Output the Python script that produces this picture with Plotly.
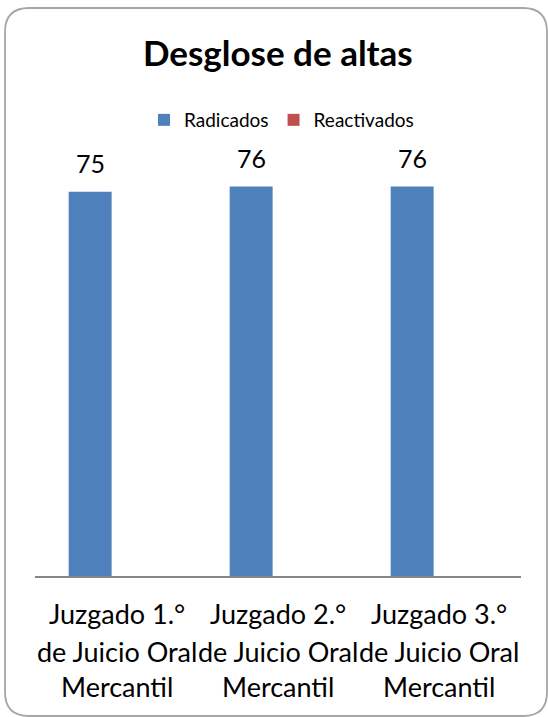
import plotly.graph_objects as go

# ---- data ----
category_lines = [
    ["Juzgado 1.°", "de Juicio Oral", "Mercantil"],
    ["Juzgado 2.°", "de Juicio Oral", "Mercantil"],
    ["Juzgado 3.°", "de Juicio Oral", "Mercantil"],
]
categories = [" ".join(l) for l in category_lines]
radicados = [75, 76, 76]
reactivados = [None, None, None]
series_names = ["Radicados", "Reactivados"]
title_text = "Desglose de altas"

# ---- layout geometry (pixels) ----
W, H = 548, 717
L, R, T, B = 35, 27, 166, 141
PW, PH = W - L - R, H - T - B
FONT = "Lato"

BLUE = "#4F81BD"
RED = "#C0504D"

fig = go.Figure()
fig.add_trace(go.Bar(x=categories, y=radicados, name=series_names[0],
                     marker=dict(color=BLUE, line=dict(width=0))))
fig.add_trace(go.Bar(x=categories, y=reactivados, name=series_names[1],
                     marker=dict(color=RED, line=dict(width=0))))

annotations = []
# data labels above Radicados bars
for c, v in zip(categories, radicados):
    annotations.append(dict(x=c, y=v, xref="x", yref="y", text=str(v),
                            showarrow=False, xanchor="center", yanchor="middle",
                            xshift=-27, yshift=29,
                            font=dict(family=FONT, size=25, color="#000000")))
# category labels, one line at a time
line_shifts = [-37, -75, -110]
for c, lines in zip(categories, category_lines):
    for ln, ys in zip(lines, line_shifts):
        annotations.append(dict(x=c, y=0, xref="x", yref="paper", text=ln,
                                showarrow=False, xanchor="center", yanchor="middle",
                                yshift=ys,
                                font=dict(family=FONT, size=27, color="#000000")))


def px2paper(x, y):
    return (x - L) / PW, (H - B - y) / PH


def rounded_rect_path(x0, y0, x1, y1, r):
    def p(x, y):
        a, b = px2paper(x, y)
        return f"{a:.5f},{b:.5f}"
    return (f"M{p(x0 + r, y0)} L{p(x1 - r, y0)} Q{p(x1, y0)} {p(x1, y0 + r)} "
            f"L{p(x1, y1 - r)} Q{p(x1, y1)} {p(x1 - r, y1)} "
            f"L{p(x0 + r, y1)} Q{p(x0, y1)} {p(x0, y1 - r)} "
            f"L{p(x0, y0 + r)} Q{p(x0, y0)} {p(x0 + r, y0)} Z")


fig.update_layout(
    width=W, height=H,
    margin=dict(l=L, r=R, t=T, b=B, pad=0),
    paper_bgcolor="#FFFFFF", plot_bgcolor="#FFFFFF",
    barmode="group", bargap=0.333, bargroupgap=0.2,
    font=dict(family=FONT, color="#000000"),
    title=dict(text=f"<b>{title_text}</b>", x=0.507, xanchor="center",
               y=1 - 54 / H, yanchor="middle",
               font=dict(family=FONT, size=35, color="#000000")),
    legend=dict(orientation="h", x=(281.5 - L) / PW, xanchor="center",
                y=(H - B - 120) / PH, yanchor="middle",
                font=dict(family=FONT, size=19, color="#000000"),
                bgcolor="rgba(0,0,0,0)", itemwidth=30, traceorder="normal"),
    xaxis=dict(type="category", showticklabels=False, showgrid=False,
               showline=True, linecolor="#868686", linewidth=1.5,
               ticks="", zeroline=False, fixedrange=True),
    yaxis=dict(range=[0, 80], visible=False, showgrid=False, zeroline=False,
               fixedrange=True),
    annotations=annotations,
    shapes=[dict(type="path", xref="paper", yref="paper",
                 path=rounded_rect_path(5, 8, 547, 716, 24),
                 line=dict(color="#A6A6A6", width=1.8), layer="above")],
    showlegend=True,
)

fig.write_html("out.html", config={"displayModeBar": False},
               post_script="document.body.style.margin='0';")
